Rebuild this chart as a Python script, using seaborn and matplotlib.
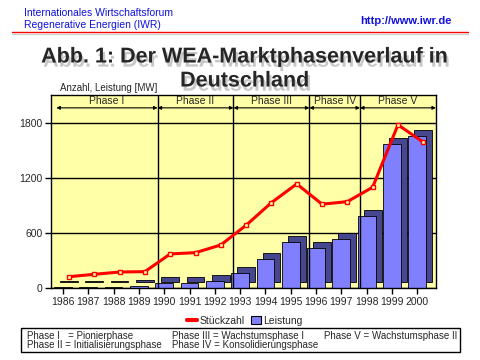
import numpy as np
import matplotlib
matplotlib.use('Agg')
import matplotlib.pyplot as plt
import matplotlib.patheffects as pe
from matplotlib.transforms import offset_copy
from matplotlib.lines import Line2D
from matplotlib.patches import Rectangle, Patch
import seaborn as sns

years = ['1986', '1987', '1988', '1989', '1990', '1991', '1992', '1993',
         '1994', '1995', '1996', '1997', '1998', '1999', '2000']
leistung = [5, 7, 9, 14, 47, 50, 73, 160, 313, 502, 433, 531, 785, 1568, 1658]
stueckzahl = [120, 146, 171, 175, 368, 382, 466, 681, 927, 1131, 910, 938, 1095, 1775, 1586]
phase_names = ['Phase I', 'Phase II', 'Phase III', 'Phase IV', 'Phase V']
phase_first = ['1986', '1990', '1993', '1996', '1998']
yticks = [0, 600, 1200, 1800]

sns.set_style('white')
plt.rcParams['font.family'] = ['Liberation Sans', 'DejaVu Sans']

fig = plt.figure(figsize=(4.8, 3.6), dpi=100)
ax = fig.add_axes([51/480, 1-287.7/360, 385/480, 192.7/360])
ax.set_facecolor('#FFFFA8')

# 3D-ish bars: dark copy shifted up/right behind the front face
depth = offset_copy(ax.transData, fig=fig, x=6, y=6, units='dots')
back = offset_copy(ax.transData, fig=fig, x=6, y=0, units='dots')

sns.barplot(x=years, y=leistung, color='#47478F', width=0.7, saturation=1,
            edgecolor='black', linewidth=0.6, ax=ax)
for p in ax.patches:
    p.set_transform(depth)
sns.barplot(x=years, y=leistung, color='#8080FF', width=0.7, saturation=1,
            edgecolor='black', linewidth=0.6, ax=ax)

pos = np.arange(len(years))
sns.lineplot(x=pos, y=stueckzahl, color='red', lw=2.2, marker='s', markersize=3.5,
             markerfacecolor='#FFFFA8', markeredgecolor='red', markeredgewidth=1,
             ax=ax, zorder=5)
ax.lines[-1].set_transform(back)

# phases
starts = [years.index(y) - 0.5 for y in phase_first]
ends = starts[1:] + [len(years) - 0.5]
ax.vlines(starts[1:], 0, 2100, color='black', lw=1, transform=back, zorder=1)
for name, s, e in zip(phase_names, starts, ends):
    ax.annotate('', xy=(e, 1960), xytext=(s, 1960), xycoords=back, textcoords=back,
                arrowprops=dict(arrowstyle='<|-|>', color='black', lw=0.8,
                                mutation_scale=5, shrinkA=0, shrinkB=0))
    ax.text((s + e) / 2, 2040, name, transform=back, ha='center', va='center', fontsize=7.5)

ax.set_ylim(0, 2100)
ax.set_xlim(-0.474, 14.74)
ax.set_yticks(yticks)
ax.set_yticklabels([str(v) for v in yticks])
ax.set_xticks(pos)
ax.set_xticklabels(years)
ax.tick_params(axis='both', direction='out', length=4, width=1, color='black',
               labelsize=7.5, pad=2, bottom=True, left=True)
ax.tick_params(axis='x', pad=3)
ax.set_xlabel('')
ax.set_ylabel('')
ax.grid(axis='y', color='black', lw=1)
ax.grid(axis='x', visible=False)
ax.set_axisbelow(True)
for sp in ax.spines.values():
    sp.set_color('black')
    sp.set_linewidth(1)

# legend
handles = [Line2D([0], [0], color='red', lw=3),
           Patch(facecolor='#8080FF', edgecolor='black', lw=0.8)]
fig.legend(handles, ['Stückzahl', 'Leistung'], loc='center', bbox_to_anchor=(0.51, 1-321/360),
           ncol=2, frameon=False, fontsize=7.5, handlelength=1.0, handleheight=0.8,
           handletextpad=0.2, columnspacing=0.6, borderpad=0)

# header
blue = '#1010E0'
fig.text(24/480, 1-13/360, 'Internationales Wirtschaftsforum', color=blue, fontsize=7.5, va='center')
fig.text(24/480, 1-25/360, 'Regenerative Energien (IWR)', color=blue, fontsize=7.5, va='center')
fig.text(452/480, 1-21/360, 'http://www.iwr.de', color=blue, fontsize=8, weight='bold',
         ha='right', va='center')
fig.add_artist(Line2D([12/480, 468/480], [1-32/360, 1-32/360], color='red', lw=1))
fig.add_artist(Line2D([12/480, 468/480], [1-34/360, 1-34/360], color='#D0D0D0', lw=1))

shadow = [pe.SimplePatchShadow(offset=(1.5, -3), shadow_rgbFace='#C8C8C8', alpha=1), pe.Normal()]
fig.text(0.51, 1-57/360, 'Abb. 1: Der WEA-Marktphasenverlauf in', fontsize=15.5, weight='bold',
         ha='center', va='center', path_effects=shadow)
fig.text(0.51, 1-81/360, 'Deutschland', fontsize=15.5, weight='bold',
         ha='center', va='center', path_effects=shadow)
fig.text(60/480, 1-88/360, 'Anzahl, Leistung [MW]', fontsize=7, va='center')

# phase description box
fig.add_artist(Rectangle((21/480, 1-352/360), 439/480, 24/360, transform=fig.transFigure,
                         facecolor='white', edgecolor='black', lw=1))
desc = [('Phase I   = Pionierphase', 27, 336), ('Phase III = Wachstumsphase I', 172, 336),
        ('Phase V = Wachstumsphase II', 324, 336), ('Phase II = Initialisierungsphase', 27, 345),
        ('Phase IV = Konsolidierungsphase', 172, 345)]
for t, x, y in desc:
    fig.text(x/480, 1-y/360, t, fontsize=7, va='center')

fig.savefig('out.png', dpi=100)
